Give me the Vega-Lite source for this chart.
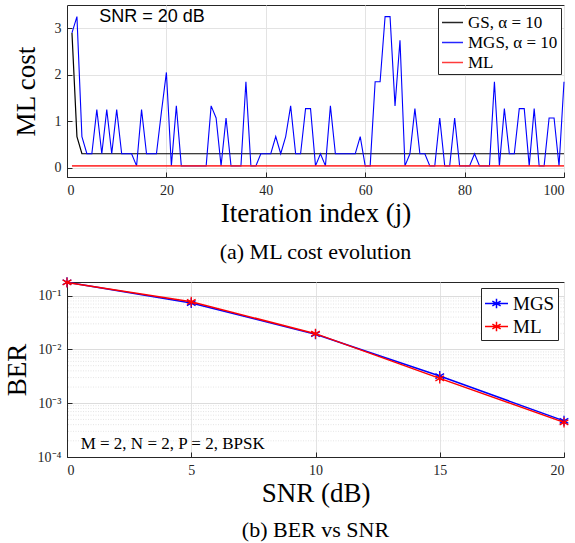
{
  "$schema": "https://vega.github.io/schema/vega-lite/v6.json",
  "background": "white",
  "padding": {"left": 2, "top": 4, "right": 10, "bottom": 2},
  "spacing": 10,
  "resolve": {"scale": {"color": "independent"}, "legend": {"color": "independent"}},
  "config": {
    "font": "Liberation Serif",
    "view": {"stroke": "#262626", "strokeWidth": 1},
    "axis": {
      "domainColor": "#262626", "tickColor": "#262626", "labelColor": "#262626", "titleColor": "#000000",
      "gridColor": "#e3e3e3", "gridWidth": 1,
      "labelFont": "Liberation Serif", "titleFont": "Liberation Serif",
      "labelFontSize": 14, "titleFontSize": 27, "titleFontWeight": "normal",
      "tickSize": -5, "labelPadding": 11
    },
    "legend": {
      "labelFont": "Liberation Serif", "labelColor": "#000000",
      "strokeColor": "#262626", "fillColor": "white",
      "padding": 3, "cornerRadius": 0, "rowPadding": 0
    },
    "title": {"font": "Liberation Serif", "fontWeight": "normal", "fontSize": 22, "color": "#000000"}
  },
  "vconcat": [
    {
      "width": 497,
      "height": 172,
      "title": {"text": "(a) ML cost evolution", "orient": "bottom", "offset": 16},
      "data": {"values": [
        {"j":1,"GS":2.9,"MGS":2.9,"ML":0.04},{"j":2,"GS":0.67,"MGS":3.25,"ML":0.04},{"j":3,"GS":0.3,"MGS":0.67,"ML":0.04},{"j":4,"GS":0.3,"MGS":0.3,"ML":0.04},{"j":5,"GS":0.3,"MGS":0.3,"ML":0.04},
        {"j":6,"GS":0.3,"MGS":1.25,"ML":0.04},{"j":7,"GS":0.3,"MGS":0.3,"ML":0.04},{"j":8,"GS":0.3,"MGS":1.25,"ML":0.04},{"j":9,"GS":0.3,"MGS":0.3,"ML":0.04},{"j":10,"GS":0.3,"MGS":1.25,"ML":0.04},
        {"j":11,"GS":0.3,"MGS":0.3,"ML":0.04},{"j":12,"GS":0.3,"MGS":0.3,"ML":0.04},{"j":13,"GS":0.3,"MGS":0.3,"ML":0.04},{"j":14,"GS":0.3,"MGS":0.04,"ML":0.04},{"j":15,"GS":0.3,"MGS":1.25,"ML":0.04},
        {"j":16,"GS":0.3,"MGS":0.3,"ML":0.04},{"j":17,"GS":0.3,"MGS":0.3,"ML":0.04},{"j":18,"GS":0.3,"MGS":0.3,"ML":0.04},{"j":19,"GS":0.3,"MGS":1.2,"ML":0.04},{"j":20,"GS":0.3,"MGS":2.05,"ML":0.04},
        {"j":21,"GS":0.3,"MGS":0.04,"ML":0.04},{"j":22,"GS":0.3,"MGS":1.33,"ML":0.04},{"j":23,"GS":0.3,"MGS":0.04,"ML":0.04},{"j":24,"GS":0.3,"MGS":0.04,"ML":0.04},{"j":25,"GS":0.3,"MGS":0.04,"ML":0.04},
        {"j":26,"GS":0.3,"MGS":0.04,"ML":0.04},{"j":27,"GS":0.3,"MGS":0.04,"ML":0.04},{"j":28,"GS":0.3,"MGS":0.04,"ML":0.04},{"j":29,"GS":0.3,"MGS":1.33,"ML":0.04},{"j":30,"GS":0.3,"MGS":1.07,"ML":0.04},
        {"j":31,"GS":0.3,"MGS":0.04,"ML":0.04},{"j":32,"GS":0.3,"MGS":1.07,"ML":0.04},{"j":33,"GS":0.3,"MGS":0.04,"ML":0.04},{"j":34,"GS":0.3,"MGS":0.04,"ML":0.04},{"j":35,"GS":0.3,"MGS":0.04,"ML":0.04},
        {"j":36,"GS":0.3,"MGS":1.85,"ML":0.04},{"j":37,"GS":0.3,"MGS":0.04,"ML":0.04},{"j":38,"GS":0.3,"MGS":0.04,"ML":0.04},{"j":39,"GS":0.3,"MGS":0.3,"ML":0.04},{"j":40,"GS":0.3,"MGS":0.3,"ML":0.04},
        {"j":41,"GS":0.3,"MGS":0.3,"ML":0.04},{"j":42,"GS":0.3,"MGS":0.67,"ML":0.04},{"j":43,"GS":0.3,"MGS":0.3,"ML":0.04},{"j":44,"GS":0.3,"MGS":0.67,"ML":0.04},{"j":45,"GS":0.3,"MGS":1.33,"ML":0.04},
        {"j":46,"GS":0.3,"MGS":0.3,"ML":0.04},{"j":47,"GS":0.3,"MGS":0.3,"ML":0.04},{"j":48,"GS":0.3,"MGS":1.27,"ML":0.04},{"j":49,"GS":0.3,"MGS":1.27,"ML":0.04},{"j":50,"GS":0.3,"MGS":0.04,"ML":0.04},
        {"j":51,"GS":0.3,"MGS":0.3,"ML":0.04},{"j":52,"GS":0.3,"MGS":0.04,"ML":0.04},{"j":53,"GS":0.3,"MGS":1.33,"ML":0.04},{"j":54,"GS":0.3,"MGS":0.3,"ML":0.04},{"j":55,"GS":0.3,"MGS":0.3,"ML":0.04},
        {"j":56,"GS":0.3,"MGS":0.3,"ML":0.04},{"j":57,"GS":0.3,"MGS":0.3,"ML":0.04},{"j":58,"GS":0.3,"MGS":0.3,"ML":0.04},{"j":59,"GS":0.3,"MGS":0.67,"ML":0.04},{"j":60,"GS":0.3,"MGS":0.04,"ML":0.04},
        {"j":61,"GS":0.3,"MGS":0.04,"ML":0.04},{"j":62,"GS":0.3,"MGS":1.85,"ML":0.04},{"j":63,"GS":0.3,"MGS":1.85,"ML":0.04},{"j":64,"GS":0.3,"MGS":3.25,"ML":0.04},{"j":65,"GS":0.3,"MGS":3.25,"ML":0.04},
        {"j":66,"GS":0.3,"MGS":1.33,"ML":0.04},{"j":67,"GS":0.3,"MGS":2.74,"ML":0.04},{"j":68,"GS":0.3,"MGS":0.04,"ML":0.04},{"j":69,"GS":0.3,"MGS":0.3,"ML":0.04},{"j":70,"GS":0.3,"MGS":1.27,"ML":0.04},
        {"j":71,"GS":0.3,"MGS":0.3,"ML":0.04},{"j":72,"GS":0.3,"MGS":0.3,"ML":0.04},{"j":73,"GS":0.3,"MGS":0.04,"ML":0.04},{"j":74,"GS":0.3,"MGS":0.04,"ML":0.04},{"j":75,"GS":0.3,"MGS":1.07,"ML":0.04},
        {"j":76,"GS":0.3,"MGS":0.04,"ML":0.04},{"j":77,"GS":0.3,"MGS":0.04,"ML":0.04},{"j":78,"GS":0.3,"MGS":1.07,"ML":0.04},{"j":79,"GS":0.3,"MGS":0.04,"ML":0.04},{"j":80,"GS":0.3,"MGS":0.04,"ML":0.04},
        {"j":81,"GS":0.3,"MGS":0.04,"ML":0.04},{"j":82,"GS":0.3,"MGS":0.3,"ML":0.04},{"j":83,"GS":0.3,"MGS":0.04,"ML":0.04},{"j":84,"GS":0.3,"MGS":0.04,"ML":0.04},{"j":85,"GS":0.3,"MGS":0.04,"ML":0.04},
        {"j":86,"GS":0.3,"MGS":1.85,"ML":0.04},{"j":87,"GS":0.3,"MGS":0.04,"ML":0.04},{"j":88,"GS":0.3,"MGS":1.27,"ML":0.04},{"j":89,"GS":0.3,"MGS":0.3,"ML":0.04},{"j":90,"GS":0.3,"MGS":0.3,"ML":0.04},
        {"j":91,"GS":0.3,"MGS":1.27,"ML":0.04},{"j":92,"GS":0.3,"MGS":1.27,"ML":0.04},{"j":93,"GS":0.3,"MGS":0.04,"ML":0.04},{"j":94,"GS":0.3,"MGS":1.27,"ML":0.04},{"j":95,"GS":0.3,"MGS":0.04,"ML":0.04},
        {"j":96,"GS":0.3,"MGS":0.04,"ML":0.04},{"j":97,"GS":0.3,"MGS":1.07,"ML":0.04},{"j":98,"GS":0.3,"MGS":1.07,"ML":0.04},{"j":99,"GS":0.3,"MGS":0.04,"ML":0.04},{"j":100,"GS":0.3,"MGS":1.85,"ML":0.04}
      ]},
      "transform": [{"fold": ["GS", "MGS", "ML"], "as": ["s", "c"]}],
      "encoding": {
        "x": {"field": "j", "type": "quantitative",
              "scale": {"domain": [0, 100], "nice": false, "zero": false},
              "axis": {"values": [0, 20, 40, 60, 80, 100], "title": "Iteration index (j)", "grid": true, "titlePadding": 3}},
        "y": {"field": "c", "type": "quantitative",
              "scale": {"domain": [-0.2, 3.5], "nice": false, "zero": false},
              "axis": {"values": [0, 1, 2, 3], "title": "ML cost", "grid": true, "titlePadding": 14}},
        "color": {"field": "s", "type": "nominal",
                  "scale": {"domain": ["GS", "MGS", "ML"], "range": ["#000000", "#0000ff", "#ff1a1a"]},
                  "legend": {"title": null, "orient": "top-right", "offset": 3, "symbolType": "stroke", "symbolSize": 441, "symbolStrokeWidth": 1.5, "labelFontSize": 17,
                             "labelExpr": "datum.label == 'ML' ? 'ML' : datum.label + ', α = 10'"}}
      },
      "layer": [
        {"transform": [{"filter": "datum.s == 'GS'"}], "mark": {"type": "line", "strokeWidth": 1.2}},
        {"transform": [{"filter": "datum.s == 'MGS'"}], "mark": {"type": "line", "strokeWidth": 1.1}},
        {"transform": [{"filter": "datum.s == 'ML'"}], "mark": {"type": "line", "strokeWidth": 1.8, "opacity": 0.85}},
        {
          "data": {"values": [{"j": 6.5, "c": 3.24, "label": "SNR = 20 dB"}]},
          "transform": [],
          "mark": {"type": "text", "font": "Liberation Sans", "fontSize": 18, "align": "left", "baseline": "middle", "color": "#000000"},
          "encoding": {"text": {"field": "label"}, "color": {"value": "#000000"}}
        }
      ]
    },
    {
      "width": 497,
      "height": 175,
      "title": {"text": "(b) BER vs SNR", "orient": "bottom", "offset": 14},
      "data": {"values": [
        {"snr": 0, "MGS": 0.178, "ML": 0.177},
        {"snr": 5, "MGS": 0.073, "ML": 0.077},
        {"snr": 10, "MGS": 0.0192, "ML": 0.0197},
        {"snr": 15, "MGS": 0.0032, "ML": 0.0029},
        {"snr": 20, "MGS": 0.00047, "ML": 0.00044}
      ]},
      "encoding": {
        "x": {"field": "snr", "type": "quantitative",
              "scale": {"domain": [0, 20], "nice": false, "zero": false},
              "axis": {"values": [0, 5, 10, 15, 20], "title": "SNR (dB)", "grid": true, "titlePadding": 3}},
        "y": {"field": "ber", "type": "quantitative",
              "scale": {"type": "log", "domain": [0.0001, 0.18], "nice": false},
              "axis": {"values": [0.0001, 0.001, 0.01, 0.1], "title": "BER", "grid": true, "gridColor": "#dcdcdc", "titlePadding": 6,
                       "labelExpr": "datum.value < 0.0005 ? '10⁻⁴' : datum.value < 0.005 ? '10⁻³' : datum.value < 0.05 ? '10⁻²' : '10⁻¹'"}}
      },
      "layer": [
        {
          "data": {"values": [
            {"g": 0.0002}, {"g": 0.0003}, {"g": 0.0004}, {"g": 0.0005}, {"g": 0.0006}, {"g": 0.0007}, {"g": 0.0008}, {"g": 0.0009},
            {"g": 0.002}, {"g": 0.003}, {"g": 0.004}, {"g": 0.005}, {"g": 0.006}, {"g": 0.007}, {"g": 0.008}, {"g": 0.009},
            {"g": 0.02}, {"g": 0.03}, {"g": 0.04}, {"g": 0.05}, {"g": 0.06}, {"g": 0.07}, {"g": 0.08}, {"g": 0.09}
          ]},
          "mark": {"type": "rule", "color": "#dedede", "strokeWidth": 0.8, "strokeDash": [1, 1.5]},
          "encoding": {"x": null, "y": {"field": "g", "type": "quantitative"}}
        },
        {
          "data": {"values": [{"snr": 0.55, "ber": 0.000172, "label": "M = 2, N = 2, P = 2, BPSK"}]},
          "mark": {"type": "text", "font": "Liberation Serif", "fontSize": 17, "align": "left", "baseline": "middle", "color": "#000000"},
          "encoding": {"text": {"field": "label"}}
        },
        {"transform": [{"fold": ["MGS", "ML"], "as": ["k", "ber"]}, {"filter": "datum.k == 'MGS'"}],
         "mark": {"type": "line", "strokeWidth": 1.5},
         "encoding": {"color": {"field": "k", "type": "nominal", "scale": {"domain": ["MGS", "ML"], "range": ["#0000ff", "#ff0000"]}}}},
        {"transform": [{"fold": ["MGS", "ML"], "as": ["k", "ber"]}, {"filter": "datum.k == 'MGS'"}],
         "mark": {"type": "point", "filled": false, "strokeWidth": 1.3, "opacity": 1, "size": 100,
                  "shape": "M0,-1L0,1M-0.866,-0.5L0.866,0.5M-0.866,0.5L0.866,-0.5"},
         "encoding": {"color": {"field": "k", "type": "nominal"}}},
        {"transform": [{"fold": ["MGS", "ML"], "as": ["k", "ber"]}, {"filter": "datum.k == 'ML'"}],
         "mark": {"type": "line", "strokeWidth": 1.5},
         "encoding": {"color": {"field": "k", "type": "nominal"}}},
        {"transform": [{"fold": ["MGS", "ML"], "as": ["k", "ber"]}, {"filter": "datum.k == 'ML'"}],
         "mark": {"type": "point", "filled": false, "strokeWidth": 1.3, "opacity": 1, "size": 100,
                  "shape": "M0,-1L0,1M-0.866,-0.5L0.866,0.5M-0.866,0.5L0.866,-0.5"},
         "encoding": {"color": {"field": "k", "type": "nominal",
                                "legend": {"title": null, "orient": "top-right", "offset": 6, "labelFontSize": 19, "symbolSize": 529, "symbolStrokeWidth": 1.5,
                                           "symbolType": "M-1,0L1,0M0,-0.42L0,0.42M-0.36,-0.21L0.36,0.21M-0.36,0.21L0.36,-0.21"}}}}
      ]
    }
  ]
}
